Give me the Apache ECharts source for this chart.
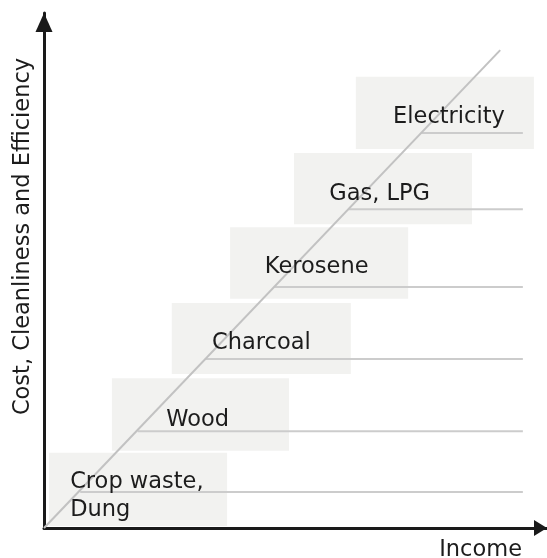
<!DOCTYPE html>
<html>
<head>
<meta charset="utf-8">
<script src="https://cdn.jsdelivr.net/npm/echarts@6/dist/echarts.min.js"></script>
<style>
html,body{margin:0;padding:0;background:#fff;}
#chart{width:547px;height:558px;}
</style>
</head>
<body>
<div id="chart"></div>
<script>
// Fuel ladder categories (bottom to top)
var fuels = ['Crop waste,\nDung', 'Wood', 'Charcoal', 'Kerosene', 'Gas, LPG', 'Electricity'];
// Box extents in income (x) and cost (y) units, 0..100
var boxLeft   = [1.0, 13.5, 25.4, 37.0, 49.7, 62.0];
var boxRight  = [36.4, 48.7, 61.0, 72.4, 85.1, 97.4];
var boxBottom = [0.4, 15.0, 29.9, 44.5, 59.0, 73.6];
var boxTop    = [14.6, 29.1, 43.7, 58.4, 72.8, 87.6];
// Horizontal level lines
var lineLevel = [7.0, 18.8, 32.8, 46.8, 61.9, 76.7];
var lineStart = [7.2, 18.6, 32.0, 45.7, 60.5, 75.0];
var lineEnd   = [95.2, 95.2, 95.2, 95.2, 95.2, 95.2];
// Label anchor (left edge x, vertical centre y)
var labelX = [5.2, 24.3, 33.4, 43.9, 56.7, 69.4];
var labelY = [6.2, 20.9, 35.8, 50.6, 64.9, 79.8];
// Diagonal energy-ladder line
var diagonal = [[0, 0], [90.7, 92.8]];

var chart = echarts.init(document.getElementById('chart'), null, {renderer: 'canvas'});
var FONT = 'DejaVu Sans';
var FS = 22.5;
var TXT = '#1c1c1c';

var idx = fuels.map(function (f, i) { return [i]; });

var option = {
  animation: false,
  backgroundColor: '#ffffff',
  grid: {left: 44, right: 0, top: 13, bottom: 30, containLabel: false, outerBoundsMode: 'none'},
  xAxis: {
    type: 'value', min: 0, max: 100,
    name: 'Income', nameLocation: 'end', nameGap: 0,
    nameTextStyle: {fontFamily: FONT, fontSize: FS, color: TXT, align: 'right', verticalAlign: 'top', padding: [11, 25, 0, 0]},
    axisLine: {show: true, symbol: ['none', 'triangle'], symbolSize: [16, 13], symbolOffset: [0, -6.5], lineStyle: {color: '#1a1a1a', width: 3}},
    axisTick: {show: false}, axisLabel: {show: false}, splitLine: {show: false}
  },
  yAxis: {
    type: 'value', min: 0, max: 100,
    name: 'Cost, Cleanliness and Efficiency', nameLocation: 'middle', nameGap: 9.5,
    nameTextStyle: {fontFamily: FONT, fontSize: FS, color: TXT, padding: [0, 0, 0, 68]},
    axisLine: {show: true, symbol: ['none', 'triangle'], symbolSize: [17, 19], symbolOffset: [0, -9.5], lineStyle: {color: '#1a1a1a', width: 3}},
    axisTick: {show: false}, axisLabel: {show: false}, splitLine: {show: false}
  },
  series: [
    {
      type: 'custom', name: 'boxes', z: 1, silent: true,
      data: idx,
      renderItem: function (params, api) {
        var i = api.value(0);
        var p0 = api.coord([boxLeft[i], boxTop[i]]);
        var p1 = api.coord([boxRight[i], boxBottom[i]]);
        return {type: 'rect', shape: {x: p0[0], y: p0[1], width: p1[0] - p0[0], height: p1[1] - p0[1]},
                style: {fill: '#f2f2f0'}};
      }
    },
    {
      type: 'custom', name: 'levels', z: 2, silent: true,
      data: idx,
      renderItem: function (params, api) {
        var i = api.value(0);
        var a = api.coord([lineStart[i], lineLevel[i]]);
        var b = api.coord([lineEnd[i], lineLevel[i]]);
        return {type: 'line', shape: {x1: a[0], y1: a[1], x2: b[0], y2: b[1]},
                style: {stroke: '#cccccc', lineWidth: 2}};
      }
    },
    {
      type: 'line', name: 'ladder', z: 3, silent: true,
      data: diagonal, symbol: 'none',
      lineStyle: {color: '#c2c2c2', width: 2}
    },
    {
      type: 'custom', name: 'labels', z: 4, silent: true,
      data: idx,
      renderItem: function (params, api) {
        var i = api.value(0);
        var p = api.coord([labelX[i], labelY[i]]);
        return {type: 'text', x: p[0], y: p[1],
                style: {text: fuels[i], fontFamily: FONT, fontSize: FS, fill: TXT,
                        align: 'left', verticalAlign: 'middle', lineHeight: 28}};
      }
    }
  ]
};
chart.setOption(option);
</script>
</body>
</html>
